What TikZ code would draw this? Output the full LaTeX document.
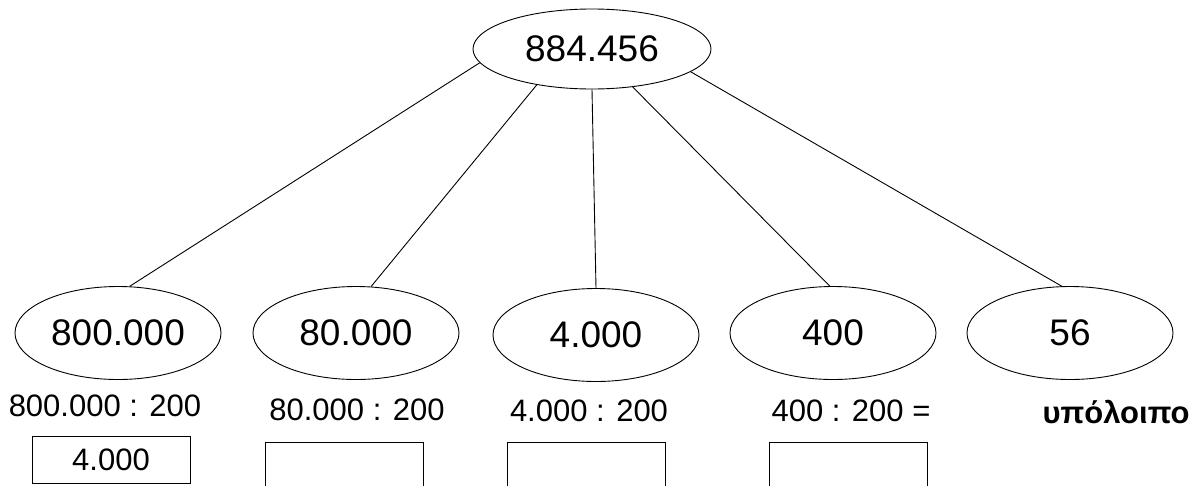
\documentclass[tikz,border=0pt]{standalone}
\usepackage{fontspec}
\setmainfont{Liberation Sans}
\usetikzlibrary{shapes.geometric}

\begin{document}
\begin{tikzpicture}[x=1pt, y=-1pt, line width=0.9pt,
      part/.style={ellipse, draw, minimum width=206pt, minimum height=93pt, inner sep=0pt,
        font=\fontsize{37}{40}\selectfont},
      whole/.style={part, minimum width=238pt, minimum height=80pt},
      division/.style={inner sep=0pt, font=\fontsize{31}{36}\selectfont},
      answer/.style={rectangle, draw, minimum width=158pt, minimum height=47pt, inner sep=0pt,
        font=\fontsize{31}{36}\selectfont}
    ]
      \useasboundingbox (0,0) rectangle (1195,485);
      \clip (0,0) rectangle (1195,485);

      \node[whole] (N) at (592,49) {884.456};

      \node[part] (P1) at (118,333) {800.000};
      \node[part] (P2) at (356,333) {80.000};
      \node[part] (P3) at (596,335) {4.000};
      \node[part] (P4) at (833,333) {400};
      \node[part] (P5) at (1070,333) {56};

      \draw (N.187) -- (P1.76);
      \draw (N.213) -- (P2.72);
      \draw (N.270) -- (P3.90);
      \draw (N.317) -- (P4.94);
      \draw (N.347) -- (P5.100);

      \node[division] (D1) at (105,406) {800.000 : 200};
      \node[division] (D2) at (357,410) {80.000 : 200};
      \node[division] (D3) at (589,411) {4.000 : 200};
      \node[division] (D4) at (851,411) {400 : 200 =};
      \node[division, anchor=east, font=\fontsize{31}{36}\selectfont\bfseries] (R) at (1190,412) {υπόλοιπο};

      % answer boxes, the last three run off the page
      \node[answer] (A1) at (111,459.5) {4.000};
      \node[answer] (A2) at (344,466) {};
      \node[answer] (A3) at (586,466) {};
      \node[answer] (A4) at (848,466) {};
    \end{tikzpicture}
\end{document}
